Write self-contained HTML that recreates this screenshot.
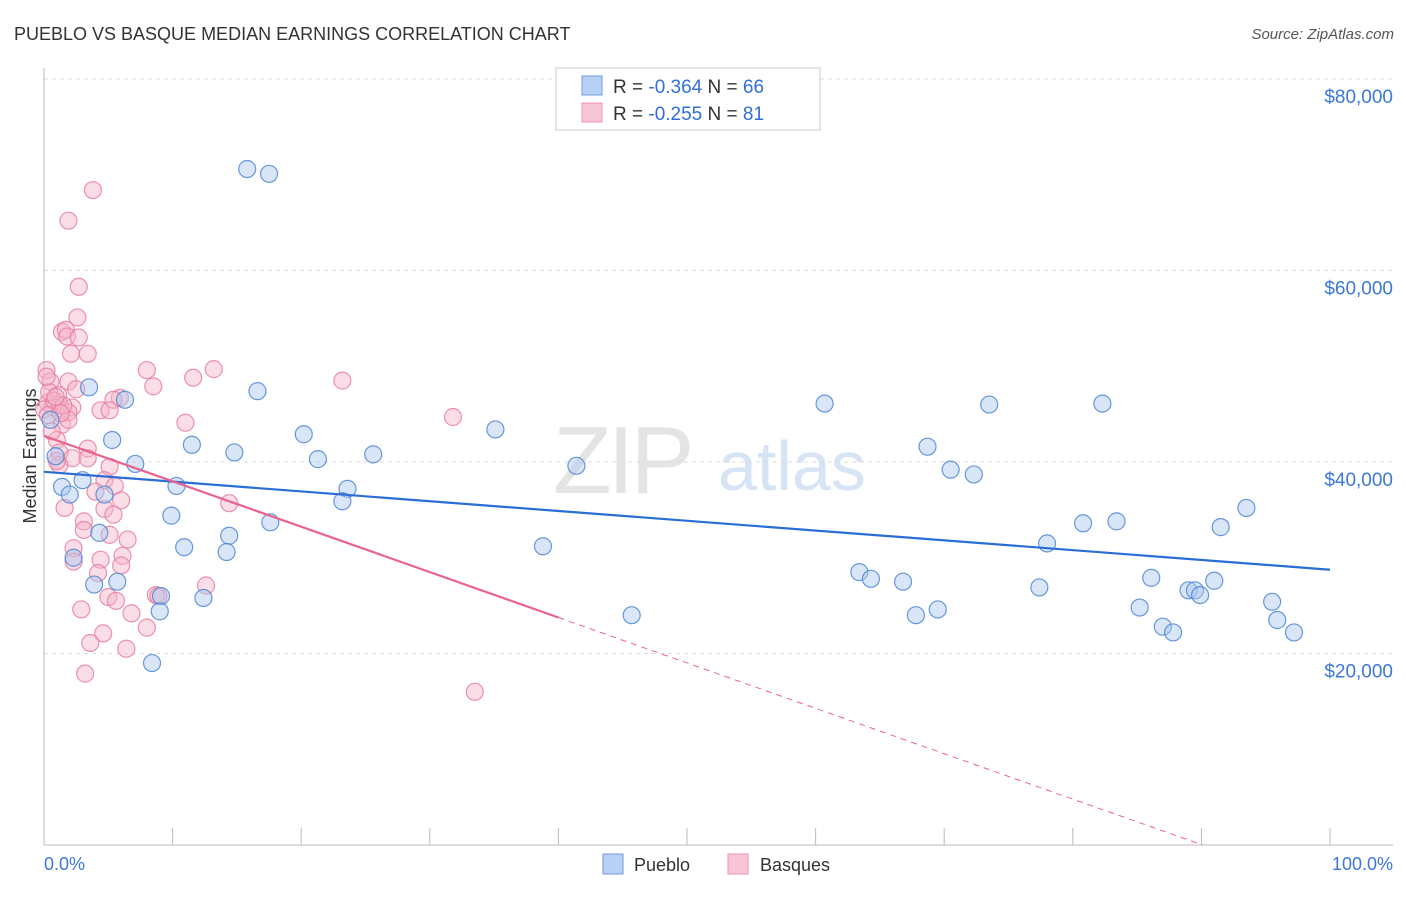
<!DOCTYPE html>
<html><head><meta charset="utf-8"><style>
body{margin:0;background:#fff;font-family:"Liberation Sans",sans-serif;}
svg text{font-family:"Liberation Sans",sans-serif;}
</style></head><body>
<svg id="chart" width="1406" height="892" xmlns="http://www.w3.org/2000/svg">
<text x="14" y="40" font-size="18" fill="#333">PUEBLO VS BASQUE MEDIAN EARNINGS CORRELATION CHART</text>
<text x="1394" y="39" font-size="15" fill="#555" font-style="italic" text-anchor="end">Source: ZipAtlas.com</text>
<g>
<text x="553" y="493" font-size="96" font-family="Liberation Serif" fill="#e4e4e4" letter-spacing="-4">ZIP</text>
<text x="718" y="490" font-size="70" fill="#d6e4f5">atlas</text>
</g>
<g id="grid"></g>
<line x1="44" y1="68" x2="44" y2="845" stroke="#bbb"/>
<line x1="44" y1="845" x2="1393" y2="845" stroke="#bbb"/>
<g id="xticks"></g>
<g id="ylabels"></g>
<text x="36" y="456" font-size="18" fill="#333" text-anchor="middle" transform="rotate(-90 36 456)">Median Earnings</text>
<text x="44" y="870" font-size="18" fill="#3b78d8">0.0%</text>
<text x="1393" y="870" font-size="18" fill="#3b78d8" text-anchor="end">100.0%</text>
<g id="pts"></g>
<g id="trends"></g>
<g>
<rect x="556" y="68" width="264" height="62" fill="#fff" stroke="#ccc"/>
<rect x="582" y="76" width="20" height="19" fill="#b7d0f3" stroke="#6f9be0"/>
<rect x="582" y="103" width="20" height="19" fill="#f8c6d5" stroke="#ec94b1"/>
<text x="613" y="93" font-size="19" fill="#333">R = <tspan fill="#2f6fd6">-0.364</tspan>    N = <tspan fill="#2f6fd6">66</tspan></text>
<text x="613" y="120" font-size="19" fill="#333">R = <tspan fill="#2f6fd6">-0.255</tspan>    N =  <tspan fill="#2f6fd6">81</tspan></text>
</g>
<g>
<rect x="603" y="854" width="20" height="20" fill="#b7d0f3" stroke="#6f9be0"/>
<text x="634" y="871" font-size="18" fill="#333">Pueblo</text>
<rect x="728" y="854" width="20" height="20" fill="#f8c6d5" stroke="#ec94b1"/>
<text x="760" y="871" font-size="18" fill="#333">Basques</text>
</g>
</svg>
<script>
const yTicks=[20000,40000,60000,80000];
const yTickLabels=["$20,000","$40,000","$60,000","$80,000"];
const xTicks=[10,20,30,40,50,60,70,80,90,100];
const puebloX=[15.8,17.5,3.5,6.3,16.6,60.7,73.5,82.3,20.2,35.1,11.5,5.3,14.8,21.3,25.6,68.7,70.5,72.3,0.9,7.1,41.4,3.0,1.4,10.3,23.6,2.0,4.7,23.2,9.9,17.6,83.4,80.8,93.5,91.5,4.3,14.4,10.9,14.2,38.8,78.0,2.3,63.4,64.3,66.8,86.1,91.0,5.7,3.9,77.4,89.0,89.5,89.9,9.1,12.4,95.5,9.0,69.5,67.8,45.7,85.2,95.9,87.0,87.8,97.2,8.4,0.5];
const puebloY=[70.6,70.1,47.8,46.5,47.4,46.1,46.0,46.1,42.9,43.4,41.8,42.3,41.0,40.3,40.8,41.6,39.2,38.7,40.6,39.8,39.6,38.1,37.4,37.5,37.2,36.6,36.6,35.9,34.4,33.7,33.8,33.6,35.2,33.2,32.6,32.3,31.1,30.6,31.2,31.5,30.0,28.5,27.8,27.5,27.9,27.6,27.5,27.2,26.9,26.6,26.6,26.1,26.0,25.8,25.4,24.4,24.6,24.0,24.0,24.8,23.5,22.8,22.2,22.2,19.0,44.4];
const basqueX=[3.8,1.9,2.7,2.6,1.4,1.7,1.8,2.7,2.1,3.4,0.2,8.0,13.2,11.6,23.2,0.5,1.9,8.5,2.5,1.1,5.9,5.4,0.3,1.2,0.7,2.2,4.4,5.1,1.9,0,31.8,11.0,1.4,1.9,1.0,3.4,1.2,2.2,3.4,1.2,5.1,4.7,5.5,4.0,6.0,14.4,4.7,1.6,5.4,3.1,3.1,5.1,6.5,2.3,6.1,4.4,2.3,6.0,4.2,12.6,5.0,8.7,8.9,5.6,2.9,6.8,8.0,4.6,3.6,6.4,3.2,33.5,0.4,0.8,1.5,0.3,0.9,1.3,0.6,1.0,0.2];
const basqueY=[68.4,65.2,58.3,55.1,53.6,53.8,53.1,53.0,51.3,51.3,49.6,49.6,49.7,48.8,48.5,48.4,48.4,47.9,47.6,47.0,46.7,46.5,46.2,46.0,45.7,45.7,45.4,45.4,45.2,45.5,44.7,44.1,43.9,44.4,42.3,41.4,41.0,40.4,40.4,39.7,39.5,38.1,37.5,36.9,36.0,35.7,35.1,35.2,34.5,33.8,32.9,32.4,31.9,31.0,30.2,29.8,29.6,29.2,28.4,27.1,25.9,26.1,26.0,25.5,24.6,24.2,22.7,22.1,21.1,20.5,17.9,16.0,47.3,46.4,45.9,44.9,46.8,45.1,43.2,40.1,48.9];
const NS="http://www.w3.org/2000/svg";
const X0=44,X1=1330,Y0=845,PXK=191.5/20;
function sx(p){return X0+(X1-X0)*p/100;}
function sy(k){return Y0-k*PXK;}
function mk(t,a){const e=document.createElementNS(NS,t);for(const k in a)e.setAttribute(k,a[k]);return e;}
const grid=document.getElementById('grid'),yl=document.getElementById('ylabels'),xt=document.getElementById('xticks');
yTicks.forEach((v,i)=>{
 const g=mk('line',{x1:44,x2:1393,y1:sy(v/1000),y2:sy(v/1000),stroke:'#ddd','stroke-dasharray':'4,4'});
 
 
 grid.appendChild(g);
 const t=mk('text',{x:1393,y:sy(v/1000)+24,'font-size':19,fill:'#3b78d8','text-anchor':'end'});
 t.textContent=yTickLabels[i];
 
 
 yl.appendChild(t);
});
xTicks.forEach(v=>{
 const l=mk('line',{x1:sx(v),x2:sx(v),y1:828,y2:845,stroke:'#bbb'});
 
 
 xt.appendChild(l);
});
const pts=document.getElementById('pts');
function drawPts(xs,ys,fill,stroke,name){
 xs.forEach((x,i)=>{
  const c=mk('circle',{cx:sx(x),cy:sy(ys[i]),r:8.5,fill:fill,'fill-opacity':0.45,stroke:stroke,'stroke-width':1.2,'stroke-opacity':0.85});
  
  
  pts.appendChild(c);
 });
}
drawPts(basqueX,basqueY,'#f5b3c8','#e87fa0','basques-point');
drawPts(puebloX,puebloY,'#a9c8f0','#4f86d6','pueblo-point');
function ols(xs,ys){const n=xs.length;let mx=0,my=0;xs.forEach((x,i)=>{mx+=x;my+=ys[i];});mx/=n;my/=n;let sxy=0,sxx=0;xs.forEach((x,i)=>{sxy+=(x-mx)*(ys[i]-my);sxx+=(x-mx)**2;});const b=sxy/sxx;return [my-b*mx,b];}
const tr=document.getElementById('trends');
const [pa,pb]=ols(puebloX,puebloY);
let l=mk('line',{x1:sx(0),y1:sy(pa),x2:sx(100),y2:sy(pa+pb*100),stroke:'#2a6dd6','stroke-width':2.2});


tr.appendChild(l);
const [ba,bb]=ols(basqueX,basqueY);
const xEnd=40,xZero=Math.min(100,-ba/bb);
l=mk('line',{x1:sx(0),y1:sy(ba),x2:sx(xEnd),y2:sy(ba+bb*xEnd),stroke:'#e8648e','stroke-width':2.2});


tr.appendChild(l);
l=mk('line',{x1:sx(xEnd),y1:sy(ba+bb*xEnd),x2:sx(xZero),y2:sy(ba+bb*xZero),stroke:'#e8648e','stroke-width':1,'stroke-dasharray':'6,5'});


tr.appendChild(l);
</script>
</body></html>
